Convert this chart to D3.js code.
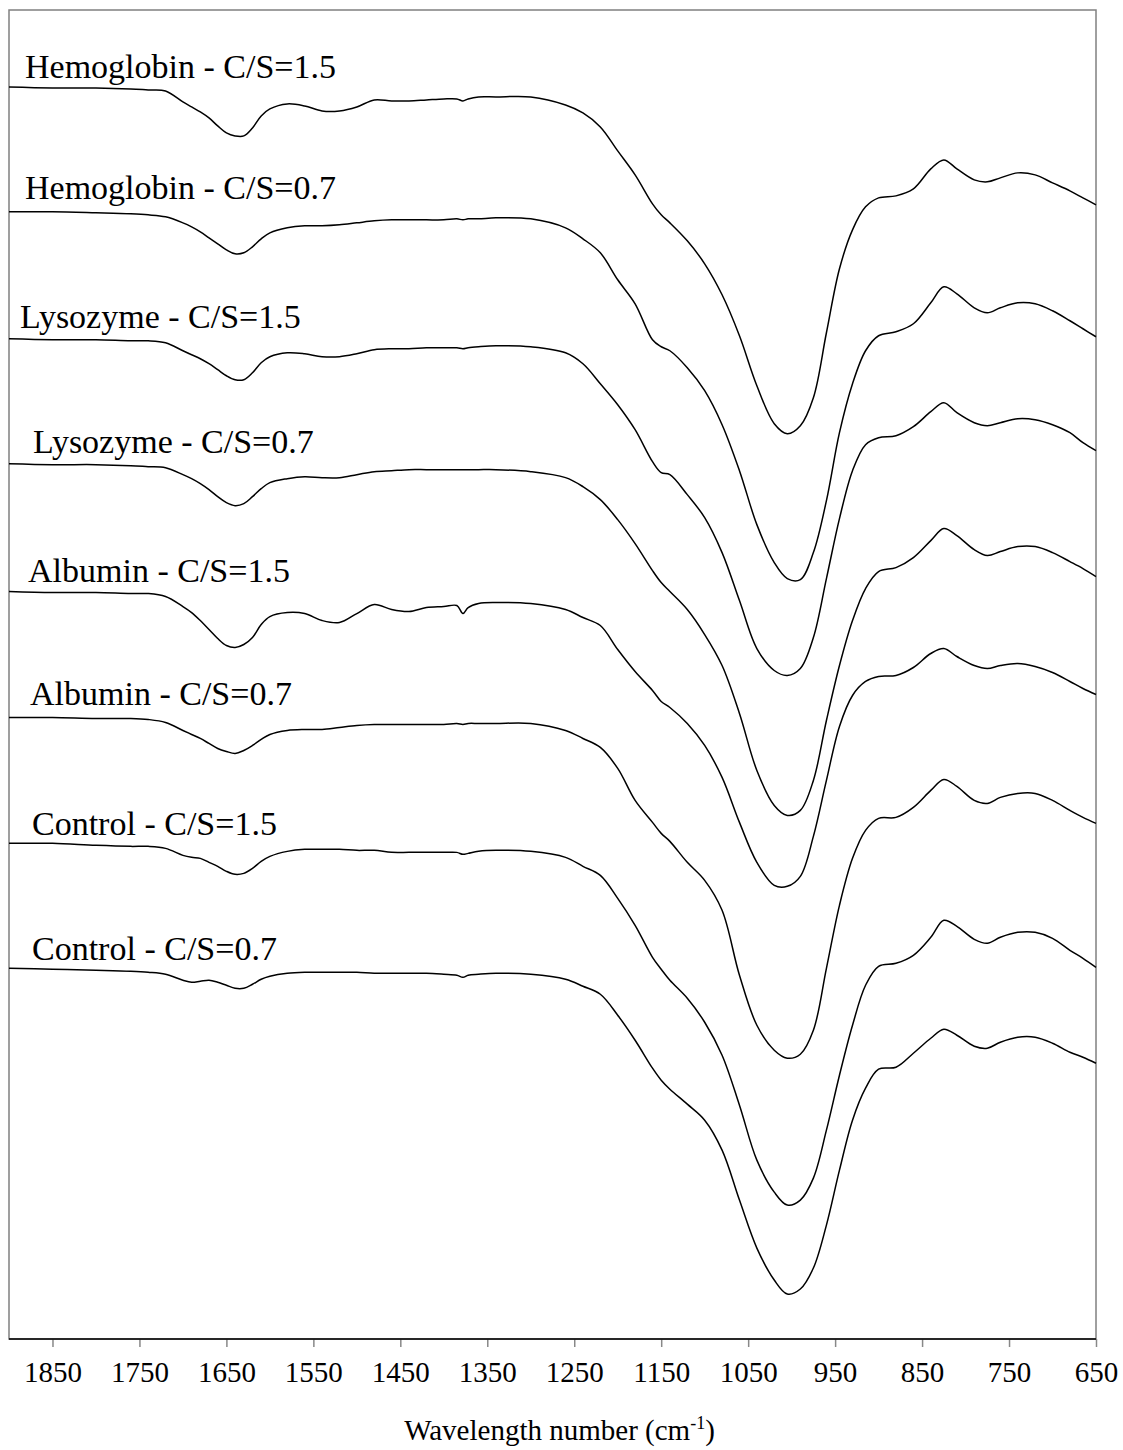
<!DOCTYPE html>
<html>
<head>
<meta charset="utf-8">
<script src="https://cdn.jsdelivr.net/npm/d3@7"></script>
<style>
  body { margin: 0; background: #fff; }
  svg { display: block; font-family: "Liberation Serif", "Times New Roman", serif; }
  .spectrum { fill: none; stroke: #000; stroke-width: 1.5; }
  .label { font-size: 34px; fill: #000; }
  .tick text { font-size: 29px; fill: #000; font-family: "Liberation Serif", serif; }
  .tick line { stroke: #888; stroke-width: 1.5; }
</style>
</head>
<body>
<svg id="chart" width="1123" height="1450"></svg>
<script>
// Wavenumber grid shared by all spectra (cm-1)
const wavenumbers = [
  1900, 1850, 1800, 1760, 1740, 1720, 1700, 1690, 1680, 1670,
  1660, 1650, 1640, 1630, 1620, 1610, 1600, 1580, 1560, 1540,
  1520, 1500, 1480, 1460, 1440, 1420, 1400, 1385, 1378, 1372,
  1360, 1340, 1300, 1260, 1240, 1220, 1200, 1180, 1160, 1150,
  1140, 1120, 1100, 1080, 1060, 1040, 1020, 1005, 990, 975,
  960, 945, 930, 915, 900, 880, 860, 840, 825, 810,
  790, 775, 760, 740, 720, 700, 680, 665, 650
];

const seriesNames = [
  "Hemoglobin - C/S=1.5", "Hemoglobin - C/S=0.7",
  "Lysozyme - C/S=1.5", "Lysozyme - C/S=0.7",
  "Albumin - C/S=1.5", "Albumin - C/S=0.7",
  "Control - C/S=1.5", "Control - C/S=0.7"
];

// Offset transmittance (a.u.), one value per wavenumber
const hemo15 = [
  125.3, 125.2, 125.2, 125.1, 125.0, 124.9, 123.8, 123.3, 122.8, 122.2,
  121.4, 120.7, 120.4, 120.4, 121.2, 122.4, 123.1, 123.6, 123.4, 122.9,
  122.9, 123.3, 124.0, 123.9, 123.9, 124.0, 124.1, 124.1, 123.9, 124.1,
  124.3, 124.3, 124.3, 123.5, 122.7, 121.3, 118.9, 116.5, 113.6, 112.5,
  111.7, 109.9, 107.6, 104.5, 100.4, 95.4, 91.6, 90.6, 91.4, 94.2,
  100.7, 107.1, 111.0, 113.3, 114.2, 114.4, 115.1, 117.1, 118.0, 117.1,
  116.0, 115.8, 116.2, 116.7, 116.5, 115.7, 114.9, 114.2, 113.5
];
const hemo07 = [
  112.8, 112.8, 112.7, 112.6, 112.5, 112.3, 111.7, 111.3, 110.8, 110.2,
  109.6, 109.0, 108.6, 108.7, 109.3, 110.1, 110.7, 111.2, 111.4, 111.4,
  111.5, 111.7, 111.9, 112.0, 112.0, 112.0, 112.0, 112.1, 112.0, 112.1,
  112.1, 112.2, 112.1, 111.2, 110.1, 108.7, 106.0, 103.6, 100.0, 99.3,
  98.9, 97.2, 94.9, 91.5, 86.9, 81.5, 77.7, 76.1, 76.0, 78.7,
  83.9, 90.7, 95.6, 98.9, 100.4, 100.8, 101.6, 103.7, 105.3, 104.6,
  103.2, 102.7, 103.2, 103.7, 103.6, 102.9, 101.9, 101.1, 100.3
];
const lyso15 = [
  100.1, 100.0, 100.0, 99.9, 99.9, 99.7, 98.9, 98.5, 98.1, 97.6,
  97.0, 96.4, 96.0, 96.0, 96.7, 97.7, 98.3, 98.7, 98.6, 98.3,
  98.3, 98.6, 99.0, 99.1, 99.1, 99.2, 99.2, 99.2, 99.1, 99.2,
  99.3, 99.4, 99.3, 98.7, 97.6, 95.6, 93.5, 91.0, 87.8, 86.7,
  86.5, 84.5, 82.2, 78.7, 73.9, 69.1, 66.9, 66.4, 67.1, 70.2,
  76.1, 82.1, 86.9, 89.5, 90.2, 90.4, 91.3, 92.8, 93.7, 92.7,
  91.7, 91.4, 91.7, 92.1, 92.0, 91.5, 90.7, 89.7, 88.9
];
const lyso07 = [
  87.6, 87.5, 87.5, 87.4, 87.3, 87.2, 86.5, 86.1, 85.6, 85.0,
  84.3, 83.7, 83.4, 83.6, 84.3, 85.1, 85.7, 86.1, 86.3, 86.2,
  86.2, 86.5, 86.8, 86.9, 87.0, 87.0, 87.0, 87.0, 87.0, 87.0,
  87.0, 87.0, 86.8, 86.2, 85.3, 84.0, 82.0, 79.6, 76.9, 75.7,
  74.8, 73.0, 70.5, 67.4, 62.6, 56.9, 53.4, 52.4, 52.9, 55.9,
  61.9, 67.4, 71.9, 75.1, 76.8, 77.2, 78.2, 79.9, 81.1, 80.4,
  79.0, 78.4, 78.8, 79.3, 79.3, 78.7, 77.8, 77.1, 76.3
];
const albu15 = [
  74.8, 74.7, 74.7, 74.6, 74.6, 74.3, 73.3, 72.7, 71.9, 71.0,
  70.1, 69.4, 69.2, 69.5, 70.2, 71.5, 72.3, 72.7, 72.6, 71.9,
  71.7, 72.6, 73.5, 73.0, 72.8, 73.2, 73.3, 73.4, 72.6, 73.2,
  73.6, 73.7, 73.6, 73.0, 72.2, 71.4, 69.0, 66.8, 64.9, 63.8,
  63.2, 61.6, 59.4, 56.2, 51.7, 47.7, 45.4, 45.3, 46.3, 50.3,
  55.9, 61.3, 64.4, 65.8, 66.3, 66.4, 67.2, 68.6, 69.1, 68.3,
  67.4, 67.1, 67.4, 67.6, 67.3, 66.7, 65.8, 65.1, 64.5
];
const albu07 = [
  62.2, 62.2, 62.1, 62.1, 62.0, 61.7, 60.9, 60.5, 60.1, 59.6,
  59.1, 58.8, 58.6, 58.9, 59.4, 60.0, 60.5, 60.9, 61.0, 61.0,
  61.2, 61.4, 61.5, 61.5, 61.5, 61.5, 61.5, 61.6, 61.5, 61.6,
  61.6, 61.6, 61.6, 60.9, 60.1, 59.2, 57.1, 53.9, 51.7, 50.6,
  49.8, 47.7, 45.9, 42.9, 36.4, 31.4, 28.9, 28.1, 28.5, 30.9,
  37.1, 43.4, 48.1, 50.9, 52.1, 52.2, 53.2, 54.9, 56.0, 55.3,
  53.9, 53.6, 54.2, 54.6, 54.6, 53.9, 52.9, 52.2, 51.6
];
const ctrl15 = [
  49.6, 49.6, 49.4, 49.3, 49.3, 49.1, 48.4, 48.2, 48.1, 47.7,
  47.3, 46.8, 46.5, 46.6, 47.1, 47.8, 48.3, 48.8, 49.0, 49.0,
  49.0, 48.9, 48.9, 48.7, 48.7, 48.7, 48.7, 48.7, 48.5, 48.6,
  48.8, 48.9, 48.8, 48.2, 47.3, 46.4, 44.1, 41.4, 38.2, 37.0,
  35.9, 34.1, 31.7, 28.4, 23.4, 17.9, 14.7, 13.4, 13.9, 16.1,
  20.9, 26.4, 31.4, 35.4, 37.3, 37.6, 38.4, 40.2, 41.9, 41.3,
  40.0, 39.6, 40.2, 40.7, 40.7, 40.1, 38.9, 38.1, 37.2
];
const ctrl07 = [
  37.1, 37.0, 36.9, 36.8, 36.7, 36.5, 35.9, 35.7, 35.8, 35.9,
  35.7, 35.4, 35.1, 35.1, 35.5, 36.0, 36.3, 36.6, 36.7, 36.7,
  36.7, 36.7, 36.6, 36.6, 36.6, 36.6, 36.5, 36.4, 36.2, 36.4,
  36.5, 36.6, 36.5, 36.0, 35.3, 34.5, 32.4, 29.9, 27.1, 25.9,
  25.0, 23.5, 21.9, 18.9, 13.9, 9.1, 5.9, 4.5, 5.0, 7.1,
  11.4, 16.9, 21.9, 25.1, 27.0, 27.2, 28.6, 30.1, 31.0, 30.4,
  29.3, 29.1, 29.7, 30.2, 30.2, 29.6, 28.7, 28.2, 27.6
];

const seriesValues = [hemo15, hemo07, lyso15, lyso07, albu15, albu07, ctrl15, ctrl07];
const tickValues = [1850, 1750, 1650, 1550, 1450, 1350, 1250, 1150, 1050, 950, 850, 750, 650];

// label placement relative to each trace start (px)
const labelShift = [[16, -9], [16, -13], [11, -11], [24, -11], [19, -10], [21, -12], [23, -8], [23, -8]];

const svg = d3.select("#chart");
const plot = { left: 9, right: 1096, top: 10, bottom: 1339 };

const x = d3.scaleLinear().domain([1900, 650]).range([plot.left, plot.right]);
const y = d3.scaleLinear().domain([0, 133]).range([plot.bottom, plot.top]);

// frame
svg.append("rect")
  .attr("x", plot.left).attr("y", plot.top)
  .attr("width", plot.right - plot.left).attr("height", plot.bottom - plot.top)
  .attr("fill", "none").attr("stroke", "#808080").attr("stroke-width", 1.5);

const line = d3.line()
  .x((d, i) => x(wavenumbers[i]))
  .y(d => y(d))
  .curve(d3.curveCatmullRom.alpha(0.5));

svg.append("g").selectAll("path")
  .data(seriesValues)
  .join("path")
  .attr("class", "spectrum")
  .attr("d", d => line(d));

svg.append("g").selectAll("text")
  .data(seriesNames)
  .join("text")
  .attr("class", "label")
  .attr("x", (d, i) => x(wavenumbers[0]) + labelShift[i][0])
  .attr("y", (d, i) => y(seriesValues[i][0]) + labelShift[i][1])
  .text(d => d);

// bottom axis
const axis = svg.append("g")
  .attr("transform", `translate(0,${plot.bottom})`)
  .call(d3.axisBottom(x).tickValues(tickValues).tickSize(8).tickPadding(14).tickFormat(d3.format("d")));
axis.select(".domain").remove();
svg.append("line")
  .attr("x1", plot.left).attr("x2", plot.right)
  .attr("y1", plot.bottom).attr("y2", plot.bottom)
  .attr("stroke", "#000").attr("stroke-width", 1.5);

const title = svg.append("text")
  .attr("x", (plot.left + plot.right) / 2 + 7)
  .attr("y", 1440)
  .attr("text-anchor", "middle")
  .style("font-size", "29px");
title.append("tspan").text("Wavelength number (cm");
title.append("tspan").attr("dy", -11).style("font-size", "18px").text("-1");
title.append("tspan").attr("dy", 11).text(")");
</script>
</body>
</html>
